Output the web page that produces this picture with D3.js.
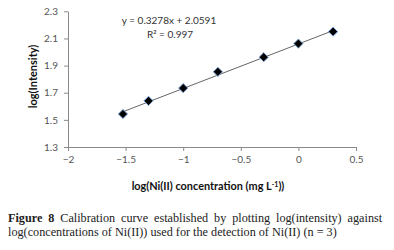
<!DOCTYPE html>
<html>
<head>
<meta charset="utf-8">
<script src="https://cdn.jsdelivr.net/npm/d3@7"></script>
<style>
  body { margin: 0; background: #fff; }
  svg { display: block; }
</style>
</head>
<body>
<svg width="394" height="250"></svg>
<script>
const logConc = [-1.523, -1.301, -1.0, -0.699, -0.301, 0.0, 0.301];
const logIntensity = [1.543, 1.640, 1.734, 1.854, 1.962, 2.062, 2.150];
const errors = [0.012, 0.008, 0.010, 0.015, 0.008, 0.008, 0.006];
const xTicks = [-2, -1.5, -1, -0.5, 0, 0.5];
const yTicks = [1.3, 1.5, 1.7, 1.9, 2.1, 2.3];
const slope = 0.3278, intercept = 2.0591;

const svg = d3.select("svg");
const axisColor = "#8a8a8a";
const tickFont = "Lato, 'Open Sans', sans-serif";

const x = d3.scaleLinear().domain([-2, 0.5]).range([68, 356]);
const y = d3.scaleLinear().domain([1.3, 2.3]).range([147, 11.3]);

// axes
const xAxis = svg.append("g")
    .attr("transform", `translate(0,${y(1.3)})`)
    .call(d3.axisBottom(x).tickValues(xTicks).tickSize(4).tickSizeOuter(0).tickFormat(d3.format("")));
const yAxis = svg.append("g")
    .attr("transform", `translate(${x(-2)},0)`)
    .call(d3.axisLeft(y).tickValues(yTicks).tickSize(4).tickSizeOuter(0).tickFormat(d3.format(".1f")));

[xAxis, yAxis].forEach(a => {
  a.select(".domain").attr("stroke", axisColor);
  a.selectAll(".tick line").attr("stroke", axisColor);
  a.selectAll(".tick text")
      .attr("fill", "#555")
      .style("font-family", tickFont)
      .style("font-size", "10px");
});
xAxis.selectAll(".tick text").attr("dy", "0.95em").attr("y", 6);
yAxis.selectAll(".tick text").attr("x", -10);

// trendline
svg.append("line")
    .attr("x1", x(d3.min(logConc))).attr("y1", y(slope * d3.min(logConc) + intercept))
    .attr("x2", x(d3.max(logConc))).attr("y2", y(slope * d3.max(logConc) + intercept))
    .attr("stroke", "#555")
    .attr("stroke-width", 0.9);

// error bars
const pts = logConc.map((c, i) => ({x: c, y: logIntensity[i], e: errors[i]}));
svg.append("g").selectAll("line")
    .data(pts)
    .join("line")
    .attr("x1", d => x(d.x)).attr("x2", d => x(d.x))
    .attr("y1", d => y(d.y - d.e)).attr("y2", d => y(d.y + d.e))
    .attr("stroke", "#222")
    .attr("stroke-width", 1);

// markers
svg.append("g").selectAll("path")
    .data(pts)
    .join("path")
    .attr("transform", d => `translate(${x(d.x)},${y(d.y)})`)
    .attr("d", "M0,-4.6L4.6,0L0,4.6L-4.6,0Z")
    .attr("fill", "#000")
    .attr("stroke", "#7ea6d6")
    .attr("stroke-width", 1);

// equation
const eq = svg.append("g")
    .style("font-family", tickFont)
    .style("font-size", "10px")
    .attr("fill", "#333");
eq.append("text").attr("x", 169).attr("y", 23.5).attr("text-anchor", "middle")
    .text(`y = ${slope}x + ${intercept}`);
eq.append("text").attr("x", 170).attr("y", 37.5).attr("text-anchor", "middle")
    .text("R² = 0.997");

// axis titles
svg.append("text")
    .attr("transform", `translate(37,${y(1.82)}) rotate(-90)`)
    .attr("text-anchor", "middle")
    .style("font-family", tickFont)
    .style("font-size", "11px")
    .style("font-weight", "bold")
    .attr("fill", "#111")
    .text("log(Intensity)");

const xt = svg.append("text")
    .attr("x", 208).attr("y", 190)
    .attr("text-anchor", "middle")
    .style("font-family", tickFont)
    .style("font-size", "10.9px")
    .style("font-weight", "bold")
    .attr("fill", "#111");
xt.append("tspan").text("log(Ni(II) concentration (mg L");
xt.append("tspan").attr("dy", -3.5).style("font-size", "7px").text("-1");
xt.append("tspan").attr("dy", 3.5).text("))");

// caption
const capFont = "'Liberation Serif', 'DejaVu Serif', serif";
const cap1 = svg.append("text")
    .attr("x", 8).attr("y", 222)
    .style("font-family", capFont)
    .style("font-size", "12.2px")
    .attr("fill", "#222");
cap1.append("tspan").style("font-weight", "bold").text("Figure 8");
cap1.append("tspan").text(" Calibration curve established by plotting log(intensity) against");
// justify first line
const words = 9;
const w1 = cap1.node().getComputedTextLength();
cap1.attr("word-spacing", (385 - 8 - w1) / words);

svg.append("text")
    .attr("x", 8).attr("y", 235.5)
    .style("font-family", capFont)
    .style("font-size", "12.2px")
    .attr("fill", "#222")
    .text("log(concentrations of Ni(II)) used for the detection of Ni(II) (n = 3)");
</script>
</body>
</html>
